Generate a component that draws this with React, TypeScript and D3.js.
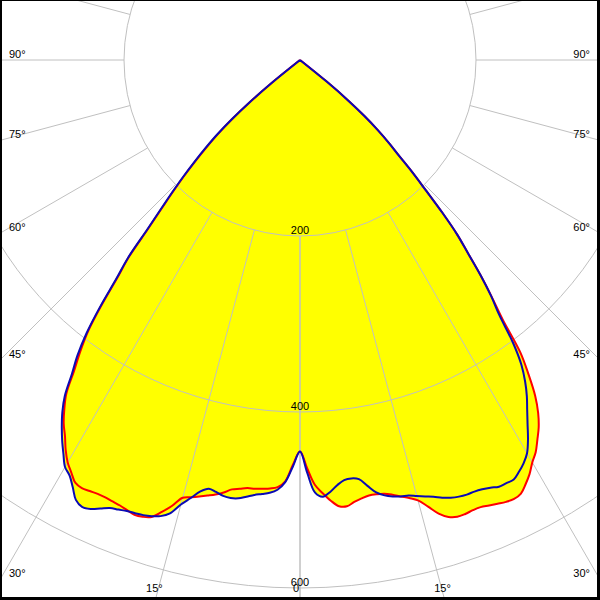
import React from 'react';
import * as d3 from 'd3';

// gamma angles (degrees from nadir)
const GAMMA = [0, 1, 2, 3, 4, 5, 6, 7, 8, 9, 10, 11, 12, 13, 14, 15, 16, 17, 18, 19, 20, 21, 22, 23, 24, 25, 26, 27, 28, 29, 30, 31, 32, 33, 34, 35, 36, 37, 38, 39, 40, 41, 42, 43, 44, 45, 46, 47, 48, 49, 50, 51, 52];

// luminous intensity (cd) — red plane, left / right halves
const RED_LEFT = [445, 460, 479, 486, 488, 489, 490, 490, 492, 494, 499, 503, 506, 509, 512, 515, 527, 537, 546, 549, 550, 548, 546, 545, 544, 544, 545, 546, 544, 536, 528, 517, 504, 493, 479, 463, 437, 415, 391, 358, 323, 296, 258, 230, 207, 186, 165, 145, 125, 101, 73, 41, 0];
const RED_RIGHT = [445, 464, 483, 493, 502, 509, 510, 506, 503, 501, 501, 502, 505, 509, 513, 518, 528, 539, 546, 549, 549, 548, 548, 550, 552, 554, 555, 553, 546, 538, 528, 520, 509, 498, 484, 466, 442, 416, 374, 346, 319, 291, 267, 237, 206, 181, 156, 138, 119, 97, 71, 39, 0];
// blue plane, left / right halves
const BLUE_LEFT = [445, 462, 480, 489, 493, 495, 497, 500, 503, 504, 503, 500, 498, 503, 513, 523, 536, 542, 545, 547, 548, 549, 551, 553, 558, 563, 565, 561, 550, 540, 534, 522, 510, 497, 483, 466, 441, 420, 394, 361, 325, 298, 260, 232, 209, 188, 167, 147, 127, 103, 75, 42, 0];
const BLUE_RIGHT = [445, 469, 492, 497, 492, 485, 480, 479, 481, 490, 499, 504, 507, 509, 510, 513, 516, 519, 523, 526, 528, 529, 529, 530, 532, 535, 535, 535, 530, 524, 516, 503, 488, 474, 461, 446, 428, 402, 368, 345, 319, 291, 267, 237, 206, 181, 156, 138, 119, 97, 71, 39, 0];

const RINGS = [200, 400, 600];
const SPOKES = [0, 15, 30, 45, 60, 75, 90, 105, 120, 135, 150, 165, 180];
const SIDE_LABELS = [90, 75, 60, 45, 30];
const BOTTOM_LABEL = 15;

const W = 600;
const H = 600;
const CX = 300;
const CY = 60;
const FONT = '"Liberation Sans", Arial, sans-serif';
const GRID = '#c0c0c0';

const r = d3.scaleLinear().domain([0, 600]).range([0, 528]);
const rad = (deg: number) => (deg * Math.PI) / 180;

function curvePath(left: number[], right: number[], close: boolean) {
  const pts: [number, number][] = [];
  for (let i = GAMMA.length - 1; i >= 0; i--) pts.push([Math.PI + rad(GAMMA[i]), r(left[i])]);
  for (let i = 1; i < GAMMA.length; i++) pts.push([Math.PI - rad(GAMMA[i]), r(right[i])]);
  const line = d3
    .lineRadial<[number, number]>()
    .angle((d) => d[0])
    .radius((d) => d[1])
    .curve(d3.curveCatmullRom.alpha(0.5));
  return (line(pts) || '') + (close ? 'Z' : '');
}

export default function App() {
  const spokes: { x1: number; y1: number; x2: number; y2: number }[] = [];
  SPOKES.forEach((s) => {
    [1, -1].forEach((side) => {
      const a = Math.PI + side * rad(s);
      const r0 = r(RINGS[0]);
      const r1 = r(1200);
      spokes.push({
        x1: CX + Math.sin(a) * r0,
        y1: CY - Math.cos(a) * r0,
        x2: CX + Math.sin(a) * r1,
        y2: CY - Math.cos(a) * r1,
      });
    });
  });

  const sideY = (deg: number) => CY + (CX * Math.cos(rad(deg))) / Math.sin(rad(deg)) - 2.5;
  const bottomBase = 592;
  const bottomDx = (bottomBase - CY) * Math.tan(rad(BOTTOM_LABEL));

  return (
    <svg
      width={W}
      height={H}
      viewBox={`0 0 ${W} ${H}`}
      style={{ position: 'absolute', left: 0, top: 0, display: 'block', background: '#fff' }}
    >
      <rect x={0} y={0} width={W} height={H} fill="#fff" />
      <g transform={`translate(${CX},${CY})`}>
        <path d={curvePath(RED_LEFT, RED_RIGHT, true)} fill="#ffff00" stroke="none" />
        <path d={curvePath(BLUE_LEFT, BLUE_RIGHT, true)} fill="#ffff00" stroke="none" />
      </g>
      {RINGS.map((v) => (
        <circle key={v} cx={CX} cy={CY} r={r(v)} fill="none" stroke={GRID} strokeWidth={1} />
      ))}
      {spokes.map((s, i) => (
        <line key={i} x1={s.x1} y1={s.y1} x2={s.x2} y2={s.y2} stroke={GRID} strokeWidth={1} />
      ))}
      <g transform={`translate(${CX},${CY})`}>
        <path d={curvePath(RED_LEFT, RED_RIGHT, false)} fill="none" stroke="#ff0000" strokeWidth={2} strokeLinejoin="round" />
        <path d={curvePath(BLUE_LEFT, BLUE_RIGHT, false)} fill="none" stroke="#0a0ab4" strokeWidth={2} strokeLinejoin="round" />
      </g>
      <g fontFamily={FONT} fontSize={11} fill="#000">
        {RINGS.map((v) => (
          <text key={v} x={CX} y={CY + r(v) - 2} textAnchor="middle">
            {v}
          </text>
        ))}
        {SIDE_LABELS.map((d) => (
          <text key={'l' + d} x={9} y={sideY(d)} textAnchor="start">
            {d}°
          </text>
        ))}
        {SIDE_LABELS.map((d) => (
          <text key={'r' + d} x={590} y={sideY(d)} textAnchor="end">
            {d}°
          </text>
        ))}
        <text x={CX - bottomDx - 3} y={bottomBase} textAnchor="middle">
          {BOTTOM_LABEL}°
        </text>
        <text x={CX + bottomDx} y={bottomBase} textAnchor="middle">
          {BOTTOM_LABEL}°
        </text>
        <text x={CX - 4} y={bottomBase} textAnchor="middle">
          0
        </text>
      </g>
      <rect x={0} y={0} width={W} height={1} fill="#000" />
      <rect x={0} y={0} width={2} height={H} fill="#000" />
      <rect x={597} y={0} width={3} height={H} fill="#000" />
      <rect x={0} y={597} width={W} height={3} fill="#000" />
    </svg>
  );
}
